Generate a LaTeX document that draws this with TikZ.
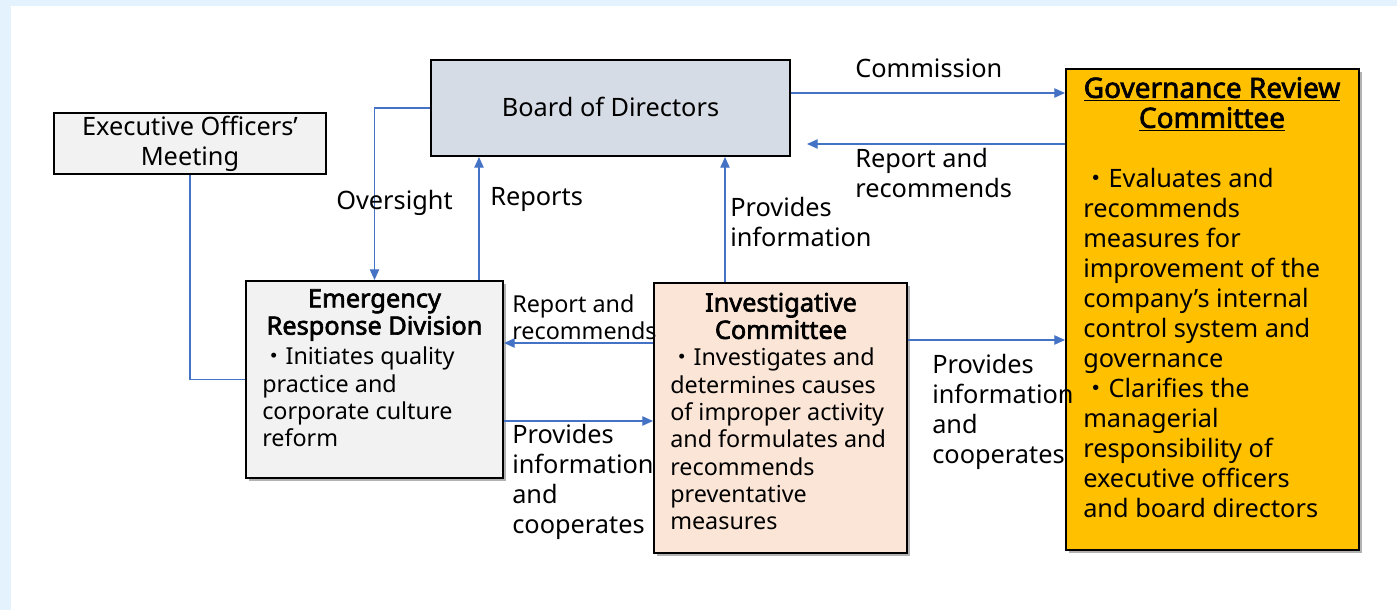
\documentclass[tikz,border=0pt]{standalone}
\usepackage{fontspec}
\setmainfont{Noto Sans}[BoldFont={Noto Sans}, BoldFeatures={FakeBold=2.5}]
\newfontfamily\cjkfont{Noto Sans CJK JP}
\usetikzlibrary{arrows.meta,shadows}
\definecolor{linkblue}{HTML}{4472C4}
\definecolor{boardfill}{HTML}{D6DCE5}
\definecolor{greyfill}{HTML}{F2F2F2}
\definecolor{invfill}{HTML}{FBE5D6}
\definecolor{govfill}{HTML}{FFC000}
\definecolor{framebg}{HTML}{E4F2FD}
\newcommand\fA{\fontsize{19}{22.5}\selectfont}
\newcommand\fB{\fontsize{17.5}{20.5}\selectfont}
\newcommand\fT{\fontsize{19}{20.5}\selectfont\bfseries}
\newcommand\fG{\fontsize{21}{22.5}\selectfont\bfseries}
\newcommand\bul{{\cjkfont ・}}
\tikzset{
  box/.style={draw=black, line width=1.5pt, inner sep=0pt, rectangle},
  shad/.style={drop shadow={shadow xshift=2.5pt, shadow yshift=-2.5pt, fill=black, opacity=0.3}},
  link/.style={draw=linkblue, line width=0.9pt, -{Triangle[length=8pt,width=7pt]}},
  plainlink/.style={draw=linkblue, line width=0.9pt},
  lbl/.style={anchor=west, inner sep=0pt, align=left, font=\fA},
  txt/.style={inner sep=0pt, font=\fB},
}
\begin{document}
\begin{tikzpicture}[x=0.75pt, y=-0.75pt]
\useasboundingbox (0,0) rectangle (1397,610);
\fill[framebg] (0,0) rectangle (1397,610);
\fill[white] (11,6) rectangle (1397,610);

% boxes
\node[box, fill=boardfill, minimum width=269.25pt, minimum height=72pt, font=\fA] (board) at (610.5,108) {\raisebox{2.2pt}{Board of Directors}};
\node[box, fill=greyfill, minimum width=204pt, minimum height=45.75pt, font=\fA, align=center] (exec) at (190,143.5) {Executive Officers’\\Meeting};
\node[box, shad, fill=greyfill, minimum width=192.75pt, minimum height=147.75pt] (erd) at (374.5,379.5) {};
\node[box, shad, fill=invfill, minimum width=189.75pt, minimum height=202.5pt] (inv) at (780.5,418) {};
\node[box, shad, fill=govfill, minimum width=219.75pt, minimum height=360.75pt] (gov) at (1212.5,309.5) {};

% box texts
\node[txt, align=center, font=\fT] (erdtitle) at (374.5,315) {Emergency\\Response Division};
\node[txt, anchor=west, align=left] (erdbody) at (262,397) {\bul Initiates quality\\practice and\\corporate culture\\reform};
\node[txt, align=center, font=\fT] (invtitle) at (781,316) {Investigative\\Committee};
\node[txt, anchor=west, align=left] (invbody) at (670,439) {\bul Investigates and\\determines causes\\of improper activity\\and formulates and\\recommends\\preventative\\measures};
\node[inner sep=0pt, align=center, font=\fG] (govtitle) at (1212,104) {\underline{Governance Review}\\\underline{Committee}};
\node[inner sep=0pt, anchor=west, align=left, font=\fA] (govbody) at (1083,343) {\bul Evaluates and\\recommends\\measures for\\improvement of the\\company’s internal\\control system and\\governance\\\bul Clarifies the\\managerial\\responsibility of\\executive officers\\and board directors};

% helper coordinates
\coordinate (xrep) at (479,0);
\coordinate (xprov) at (725,0);
\coordinate (ycom) at (0,93);
\coordinate (yrep) at (0,144);
\coordinate (yirep) at (0,343);
\coordinate (yeprov) at (0,421);
\coordinate (yiprov) at (0,340);

% connectors
\draw[link] (board.west) -| (erd.north);
\draw[link] (erd.north -| xrep) -- (board.south -| xrep);
\draw[link] (inv.north -| xprov) -- (board.south -| xprov);
\draw[link] (board.east |- ycom) -- (gov.west |- ycom);
\draw[link, shorten >=12pt] (gov.west |- yrep) -- (board.east |- yrep);
\draw[link] (inv.west |- yirep) -- (erd.east |- yirep);
\draw[link] (erd.east |- yeprov) -- (inv.west |- yeprov);
\draw[link] (inv.east |- yiprov) -- (gov.west |- yiprov);
\draw[plainlink] (exec.south) |- (erd.west);

% labels
\node[lbl] (lcom) at (855,68) {Commission};
\node[lbl] (lrep1) at (855,173) {Report and\\recommends};
\node[lbl] (lover) at (336,203) {Oversight};
\node[lbl] (lreports) at (490,199) {Reports};
\node[lbl] (lprov1) at (730,222) {Provides\\information};
\node[lbl, font=\fB] (lrep2) at (512,317) {Report and\\recommends};
\node[lbl] (lprov2) at (512,482) {Provides\\information\\and\\cooperates};
\node[lbl] (lprov3) at (932,412) {Provides\\information\\and\\cooperates};
\end{tikzpicture}
\end{document}
